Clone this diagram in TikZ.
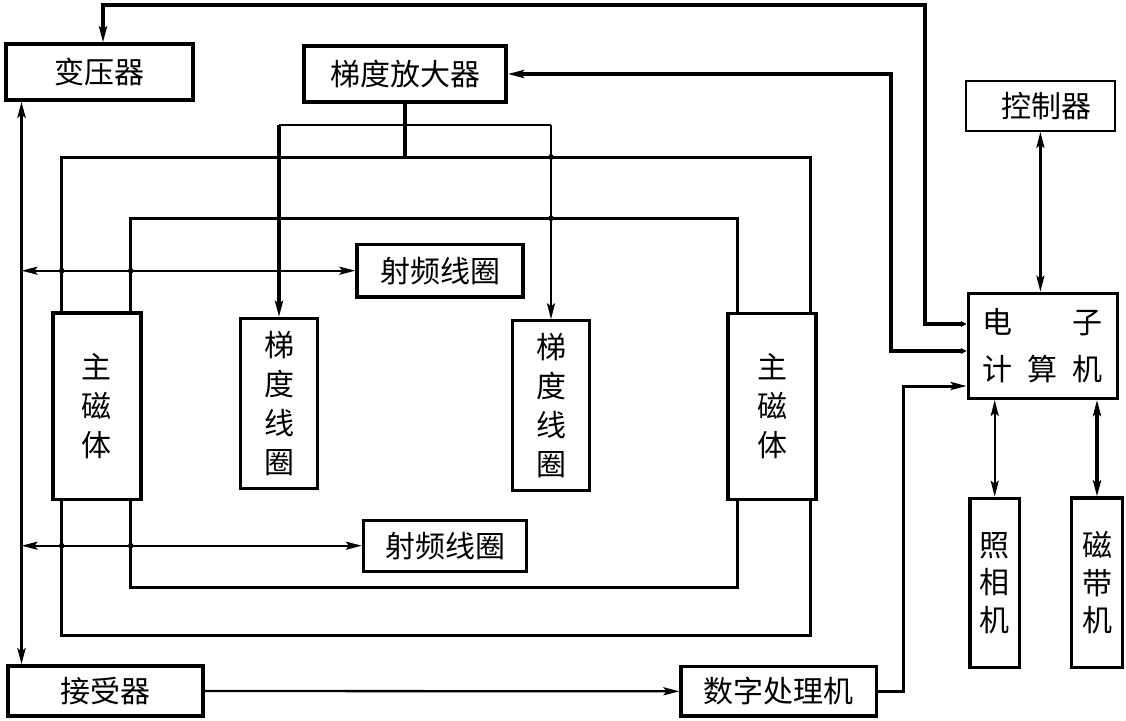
\documentclass[tikz,border=0pt]{standalone}
\usepackage{fontspec}
\newfontfamily\cjk{Noto Sans CJK SC}
\usetikzlibrary{arrows.meta}

\begin{document}
\begin{tikzpicture}[x=1pt,y=1pt,yscale=-1,xscale=1,
  >={Stealth[length=16pt,width=8pt,inset=3pt]},
  blk/.style={draw,line width=3.2pt,fill=white,inner sep=0pt,align=center,font=\cjk\fontsize{30}{39}\selectfont},
  lnk/.style={line width=2.3pt},
  heavy/.style={line width=3.5pt}]
\useasboundingbox (0,0) rectangle (1126,720);

%Shape: Magnet frames
\draw [line width=3pt] (61.7,157) rectangle (810,635);
\draw [line width=2.7pt] (130.7,218.3) rectangle (737.3,587.3);

% Text Node
\node [blk,minimum width=187,minimum height=56] (bianya) at (99.5,72) {变压器};
% Text Node
\node [blk,line width=3.6pt,minimum width=202,minimum height=56] (fangda) at (405,74) {梯度放大器};
% Text Node
\node [blk,line width=2.4pt,minimum width=149,minimum height=50] (kongzhi) at (1040.4,105.7) {\hspace{12pt}控制器};
% Text Node
\node [blk,minimum width=149,minimum height=105,font=\cjk\fontsize{30}{46.6}\selectfont] (jisuanji) at (1042.8,345.8) {电\hspace{60pt}子\\计\hspace{15pt}算\hspace{15pt}机};
% Text Node
\node [blk,minimum width=166,minimum height=52.5] (shepin1) at (440,270.7) {射频线圈};
% Text Node
\node [blk,minimum width=163,minimum height=51] (shepin2) at (445,545.7) {射频线圈};
% Text Node
\node [blk,line width=3.6pt,minimum width=88,minimum height=186.6] (citi1) at (96.7,406) {主\\磁\\体};
% Text Node
\node [blk,line width=3.6pt,minimum width=88,minimum height=186] (citi2) at (772,406.3) {主\\磁\\体};
% Text Node
\node [blk,line width=2.8pt,minimum width=76.6,minimum height=170] (tidu1) at (279,403.3) {梯\\度\\线\\圈};
% Text Node
\node [blk,line width=2.8pt,minimum width=76.6,minimum height=170] (tidu2) at (551,405.7) {梯\\度\\线\\圈};
% Text Node
\node [blk,minimum width=49.3,minimum height=169.4,font=\cjk\fontsize{30}{37.5}\selectfont] (zhaoxiang) at (994.7,583) {照\\相\\机};
% Text Node
\node [blk,minimum width=50.6,minimum height=169.7,font=\cjk\fontsize{30}{37.5}\selectfont] (cidai) at (1097,582.9) {磁\\带\\机};
% Text Node
\node [blk,minimum width=195,minimum height=50] (jieshou) at (105.5,691) {接受器};
% Text Node
\node [blk,minimum width=195.7,minimum height=49.3] (shuzi) at (778.9,691.3) {数字处理机};

%Straight Lines
\coordinate (lbus) at (21.5,0);
\draw [heavy,<->] (lbus |- bianya.south) -- (lbus |- jieshou.north);
\draw [lnk,<->] (lbus |- shepin1.west) -- (shepin1.west);
\draw [lnk,<->] (lbus |- shepin2.west) -- (shepin2.west);
\fill (61.7,270.7) circle (2.8);
\fill (130.7,270.7) circle (2.8);
\fill (61.7,545.7) circle (2.8);
\fill (130.7,545.7) circle (2.8);

%Straight Lines
\coordinate (gl) at (tidu1.north |- 0,125);
\coordinate (gr) at (tidu2.north |- 0,125);
\draw [line width=4pt] (fangda.south) -- (fangda.south |- 0,157);
\draw [lnk] (gl) -- (gr);
\draw [line width=3.6pt,->] (gl) -- (tidu1.north);
\draw [lnk,->] (gr) -- (tidu2.north);
\fill (gr |- 0,157) circle (2.8);
\fill (gr |- 0,218.3) circle (2.8);

%Straight Lines
\draw [heavy,{Stealth[length=6pt,width=6pt]}->] (jisuanji.west |- 0,324) -| (925,5) -| ([xshift=3.5pt]bianya.north);
\draw [heavy,{Stealth[length=6pt,width=6pt]}->] (jisuanji.west |- 0,351) -| (891,74) -- (fangda.east);
\draw [line width=3pt,->] (shuzi.east) -| (903,386) -- (jisuanji.west |- 0,386);
\draw [lnk,->] (jieshou.east) -- (shuzi.west);
\draw [lnk,<->] (kongzhi.south) -- (kongzhi.south |- jisuanji.north);
\draw [lnk,<->] (zhaoxiang.north |- jisuanji.south) -- (zhaoxiang.north);
\draw [heavy,<->] (cidai.north |- jisuanji.south) -- (cidai.north);
\end{tikzpicture}
\end{document}
